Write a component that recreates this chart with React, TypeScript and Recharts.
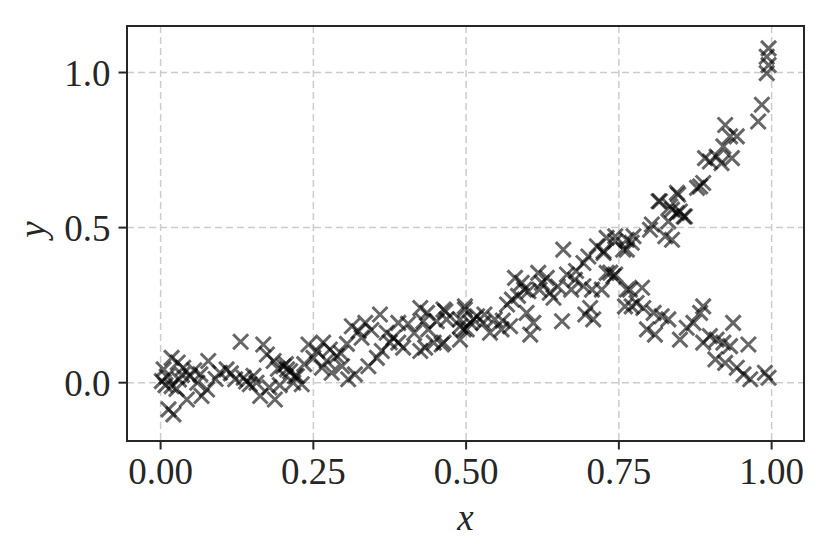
import React from 'react';
import { ScatterChart, Scatter, XAxis, YAxis, CartesianGrid, ReferenceArea } from 'recharts';

const xTicks = [0, 0.25, 0.5, 0.75, 1.0];
const yTicks = [0, 0.5, 1.0];
const xDomain = [-0.055, 1.053];
const yDomain = [-0.188, 1.15];

const seg1: [number, number][] = [
  [0.131,0.132],[0.168,0.123],[0.018,0.080],[0.005,0.043],[0.037,0.048],[0.002,0.005],[0.018,-0.011],[0.021,-0.102],
  [0.013,-0.086],[0.078,0.070],[0.048,0.021],[0.065,0.027],[0.043,-0.054],[0.076,-0.022],[0.067,-0.043],[0.097,0.032],
  [0.108,0.043],[0.122,0.011],[0.136,0.016],[0.146,-0.005],[0.157,0.000],[0.163,-0.043],[0.187,-0.054],[0.174,0.091],
  [0.185,0.070],[0.201,0.053],[0.212,0.037],[0.223,0.021],[0.217,0.000],[0.231,-0.005],[0.010,0.020],[0.030,0.010],
  [0.026,-0.020],[0.055,0.040],[0.060,0.000],[0.090,0.012],[0.115,0.030],[0.140,0.004],[0.152,0.022],[0.178,-0.015],
  [0.195,-0.008],[0.205,0.060],[0.192,0.045],[0.008,-0.008],[0.035,0.025],[0.028,0.065],
];

const seg2: [number, number][] = [
  [0.207,0.043],[0.220,0.021],[0.242,0.123],[0.256,0.102],[0.266,0.129],[0.277,0.107],[0.288,0.086],[0.264,0.048],
  [0.280,0.032],[0.297,0.053],[0.307,0.011],[0.318,0.027],[0.313,0.182],[0.324,0.166],[0.335,0.193],[0.329,0.145],
  [0.340,0.053],[0.354,0.080],[0.362,0.102],[0.359,0.220],[0.370,0.161],[0.381,0.145],[0.389,0.193],[0.389,0.129],
  [0.397,0.113],[0.425,0.241],[0.436,0.225],[0.430,0.198],[0.438,0.172],[0.452,0.198],[0.463,0.236],[0.425,0.102],
  [0.433,0.113],[0.447,0.129],[0.460,0.123],[0.490,0.182],[0.498,0.246],[0.501,0.172],[0.512,0.204],[0.295,0.095],
  [0.305,0.125],[0.272,0.070],[0.345,0.170],[0.375,0.130],[0.405,0.190],[0.415,0.160],[0.250,0.080],[0.235,0.060],
];

const seg3: [number, number][] = [
  [0.466,0.230],[0.468,0.204],[0.463,0.129],[0.490,0.204],[0.498,0.236],[0.496,0.172],[0.507,0.193],[0.490,0.139],
  [0.518,0.214],[0.528,0.193],[0.539,0.161],[0.547,0.204],[0.558,0.172],[0.572,0.182],[0.567,0.252],[0.575,0.268],
  [0.580,0.338],[0.591,0.322],[0.602,0.295],[0.599,0.225],[0.605,0.155],[0.610,0.193],[0.618,0.354],[0.624,0.322],
  [0.637,0.290],[0.643,0.274],[0.632,0.338],[0.657,0.198],[0.659,0.429],[0.665,0.349],[0.678,0.332],[0.692,0.311],
  [0.706,0.300],[0.695,0.220],[0.703,0.241],[0.708,0.204],[0.692,0.386],[0.700,0.407],[0.714,0.440],[0.725,0.418],
  [0.730,0.354],[0.744,0.349],[0.744,0.472],[0.757,0.429],[0.763,0.461],[0.774,0.472],[0.763,0.300],[0.771,0.246],
  [0.585,0.280],[0.595,0.300],[0.620,0.300],[0.650,0.310],[0.680,0.360],[0.672,0.300],[0.560,0.200],[0.530,0.220],
];

const seg4: [number, number][] = [
  [0.730,0.467],[0.725,0.424],[0.744,0.456],[0.771,0.451],[0.763,0.429],[0.801,0.493],[0.826,0.472],[0.837,0.461],
  [0.817,0.585],[0.834,0.568],[0.847,0.606],[0.845,0.547],[0.856,0.536],[0.883,0.633],[0.995,1.078],[0.992,1.051],
  [0.995,1.024],[0.992,0.998],[0.984,0.896],[0.978,0.842],[0.924,0.831],[0.932,0.794],[0.943,0.794],[0.921,0.762],
  [0.910,0.729],[0.899,0.713],[0.891,0.724],[0.918,0.708],[0.935,0.724],[0.888,0.644],[0.878,0.628],[0.815,0.585],
  [0.845,0.612],[0.837,0.558],[0.850,0.552],[0.858,0.536],[0.831,0.520],[0.804,0.510],
];

const seg5: [number, number][] = [
  [0.736,0.355],[0.741,0.343],[0.722,0.300],[0.768,0.300],[0.788,0.306],[0.760,0.246],[0.779,0.257],[0.790,0.241],
  [0.807,0.225],[0.820,0.214],[0.831,0.204],[0.796,0.172],[0.809,0.155],[0.850,0.139],[0.861,0.177],[0.872,0.193],
  [0.883,0.225],[0.888,0.246],[0.888,0.129],[0.899,0.150],[0.910,0.139],[0.921,0.129],[0.937,0.193],[0.932,0.118],
  [0.962,0.123],[0.908,0.075],[0.924,0.064],[0.943,0.048],[0.954,0.027],[0.965,0.011],[0.989,0.032],[0.995,0.016],
];

const data = [...seg1, ...seg2, ...seg3, ...seg4, ...seg5].map(([x, y]) => ({ x, y }));

const INK = '#262626';
const FONT = '"Liberation Serif", "DejaVu Serif", serif';

const Cross = (props: any) => {
  const { cx, cy } = props;
  if (cx == null || cy == null) return null;
  const s = 7.5;
  return (
    <path
      d={`M${cx - s},${cy - s}L${cx + s},${cy + s}M${cx - s},${cy + s}L${cx + s},${cy - s}`}
      stroke="#000"
      strokeOpacity={0.6}
      strokeWidth={3}
      fill="none"
    />
  );
};

const tickStyle = { fill: INK, fontSize: 37, fontFamily: FONT };

export default function App() {
  return (
    <ScatterChart width={830} height={555} margin={{ top: 18, right: 34, left: 0, bottom: 0 }}>
      <CartesianGrid stroke="#cccccc" strokeDasharray="7 4" strokeWidth={1.5} />
      <XAxis
        type="number"
        dataKey="x"
        domain={xDomain}
        ticks={xTicks}
        allowDataOverflow
        interval={0}
        height={122}
        tickFormatter={(v: number) => v.toFixed(2)}
        tick={tickStyle}
        tickSize={8.5}
        tickMargin={8}
        stroke={INK}
        strokeWidth={2}
        tickLine={{ stroke: INK, strokeWidth: 2 }}
        label={{
          content: (p: any) => {
            const vb = p.viewBox;
            return (
              <text x={vb.x + vb.width / 2} y={vb.y + 89} textAnchor="middle" fill={INK} fontSize={37} fontFamily={FONT} fontStyle="italic">x</text>
            );
          },
        }}
      />
      <YAxis
        type="number"
        dataKey="y"
        domain={yDomain}
        ticks={yTicks}
        allowDataOverflow
        interval={0}
        width={119}
        tickFormatter={(v: number) => v.toFixed(1)}
        tick={tickStyle}
        tickSize={8.5}
        tickMargin={8}
        stroke={INK}
        strokeWidth={2}
        tickLine={{ stroke: INK, strokeWidth: 2 }}
        label={{
          content: (p: any) => {
            const vb = p.viewBox;
            const cy = vb.y + vb.height / 2 - 4;
            return (
              <text x={37} y={cy} transform={`rotate(-90, 37, ${cy})`} textAnchor="middle" fill={INK} fontSize={37} fontFamily={FONT} fontStyle="italic">y</text>
            );
          },
        }}
      />
      <ReferenceArea x1={xDomain[0]} x2={xDomain[1]} y1={yDomain[0]} y2={yDomain[1]} fill="none" stroke={INK} strokeWidth={2} ifOverflow="visible" />
      <Scatter data={data} shape={(p: any) => <Cross {...p} />} isAnimationActive={false} />
    </ScatterChart>
  );
}
